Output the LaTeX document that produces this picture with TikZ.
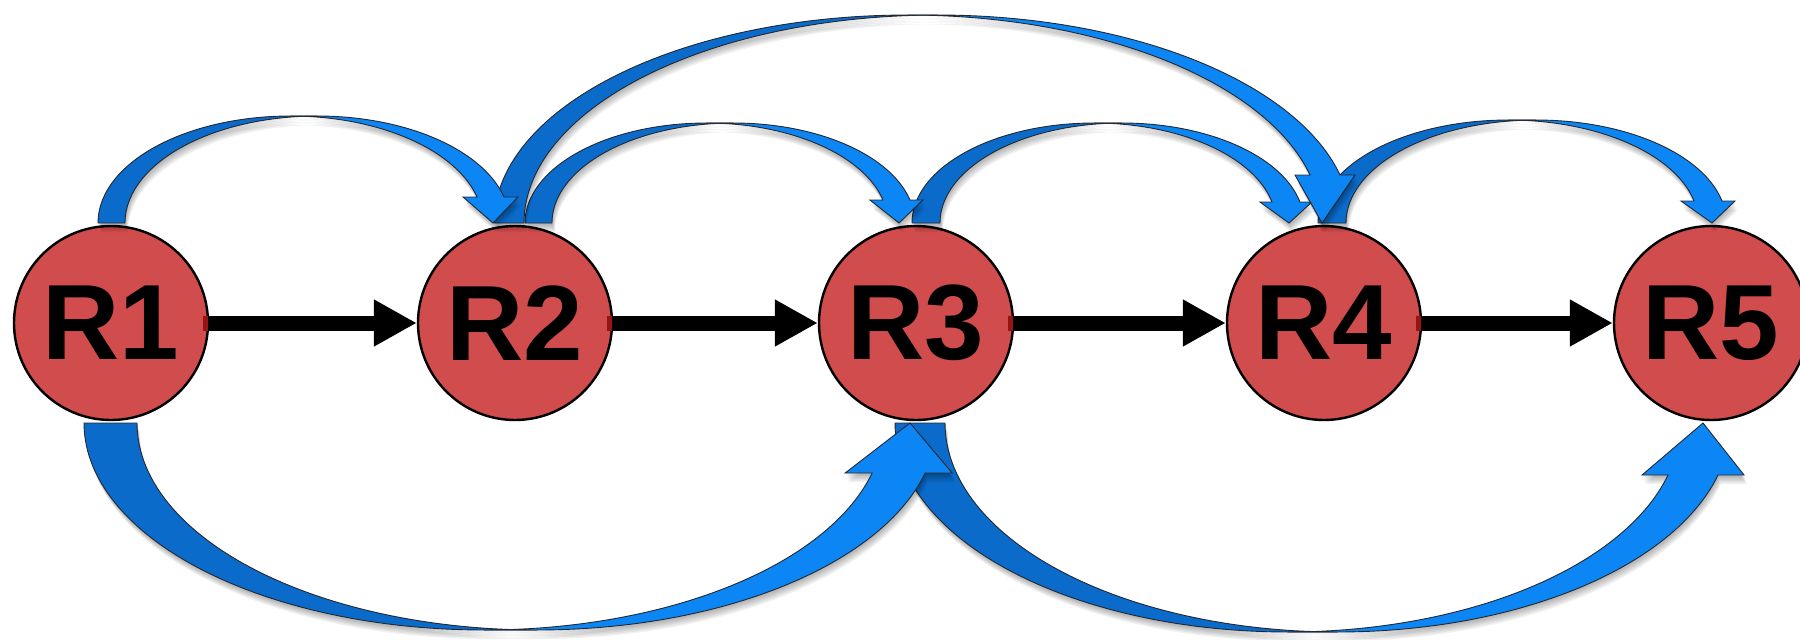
\documentclass[tikz,border=0pt]{standalone}
\usepackage{fontspec}
\setmainfont{Liberation Sans}
\newfontfamily\rfont{Liberation Sans Bold}
\usetikzlibrary{arrows.meta}
\definecolor{nodered}{RGB}{209,76,76}
\definecolor{markred}{RGB}{150,20,20}
\definecolor{bdark}{RGB}{11,107,202}
\definecolor{blight}{RGB}{12,134,244}
\definecolor{bline}{RGB}{35,40,50}
% block arrow: {cx}{rx}{ry}{base y}{width}{sign}{head base y}{barb}{tip x}
\newcommand{\blockarrow}[9]{%
  \pgfmathsetmacro\baTh{asin(abs(#7-#4)/#3)}%
  \pgfmathsetmacro\baXL{#1+#2*cos(\baTh)}%
  \pgfmathsetmacro\baXR{#1+#5+#2*cos(\baTh)}%
  \def\baDark{plot[domain=180:90,samples=60] ({#1+#2*cos(\x)},{#4-(#6)*#3*sin(\x)}) -- plot[domain=90:180,samples=60] ({#1+#5+#2*cos(\x)},{#4-(#6)*#3*sin(\x)}) -- cycle}%
  \def\baLight{plot[domain=90:\baTh,samples=60] ({#1+#5+#2*cos(\x)},{#4-(#6)*#3*sin(\x)}) -- ({\baXR+#8},{#7}) -- ({#9},{#4}) -- ({\baXL-#8},{#7}) -- plot[domain=\baTh:90,samples=60] ({#1+#2*cos(\x)},{#4-(#6)*#3*sin(\x)}) -- cycle}%
  \foreach \d in {1,...,6}{%
    \fill[black, fill opacity=0.055, shift={(0.5*\d,1.5*\d)}] \baDark \baLight;}%
  \filldraw[barrowdark] \baDark;%
  \filldraw[barrowlight] \baLight;%
}
\begin{document}
\begin{tikzpicture}[x=1pt,y=-1pt,
  rnode/.style={circle, minimum size=194pt, inner sep=0pt, fill=nodered, draw=black, line width=2.4pt, font=\rfont\fontsize{107}{107}\selectfont},
  flowarrow/.style={line width=15pt, black, -{Triangle[length=43pt,width=44pt]}},
  startmark/.style={line width=15pt, markred},
  barrowdark/.style={fill=bdark, draw=bline, line width=0.9pt},
  barrowlight/.style={fill=blight, draw=bline, line width=0.9pt}]
\useasboundingbox (0,0) rectangle (1800,640);
\fill[white] (0,0) rectangle (1800,640);
% nodes
\node[rnode] (R1) at (111,323) {R1};
\node[rnode] (R2) at (515,323) {R2};
\node[rnode] (R3) at (916,323) {R3};
\node[rnode] (R4) at (1324,323) {R4};
\node[rnode] (R5) at (1711,323) {R5};
% straight arrows
\draw[flowarrow] (R1.east) -- (R2.west);
\draw[flowarrow] (R2.east) -- (R3.west);
\draw[flowarrow] (R3.east) -- (R4.west);
\draw[flowarrow] (R4.east) -- (R5.west);
\foreach \n in {R1,R2,R3,R4}{\draw[startmark] ([xshift=-6pt]\n.east) -- ([xshift=-1.5pt]\n.east);}
% curved block arrows (top)
\blockarrow{1508.2}{190.2}{103}{223}{28}{1}{201}{13}{1712}
\blockarrow{1094}{182}{100}{223}{28}{1}{202}{12}{1289}
\blockarrow{706.4}{181.4}{100}{223}{27}{1}{200}{13}{899}
\blockarrow{907.6}{413.6}{208}{223}{30}{1}{175}{15}{1322}
\blockarrow{290.4}{192.4}{107}{223}{27}{1}{197}{14}{493}
% curved block arrows (bottom)
\blockarrow{1287.7}{392.7}{209}{423}{50}{-1}{475}{26}{1703}
\blockarrow{484}{400}{207}{423}{53}{-1}{473}{27}{910}
\end{tikzpicture}
\end{document}
